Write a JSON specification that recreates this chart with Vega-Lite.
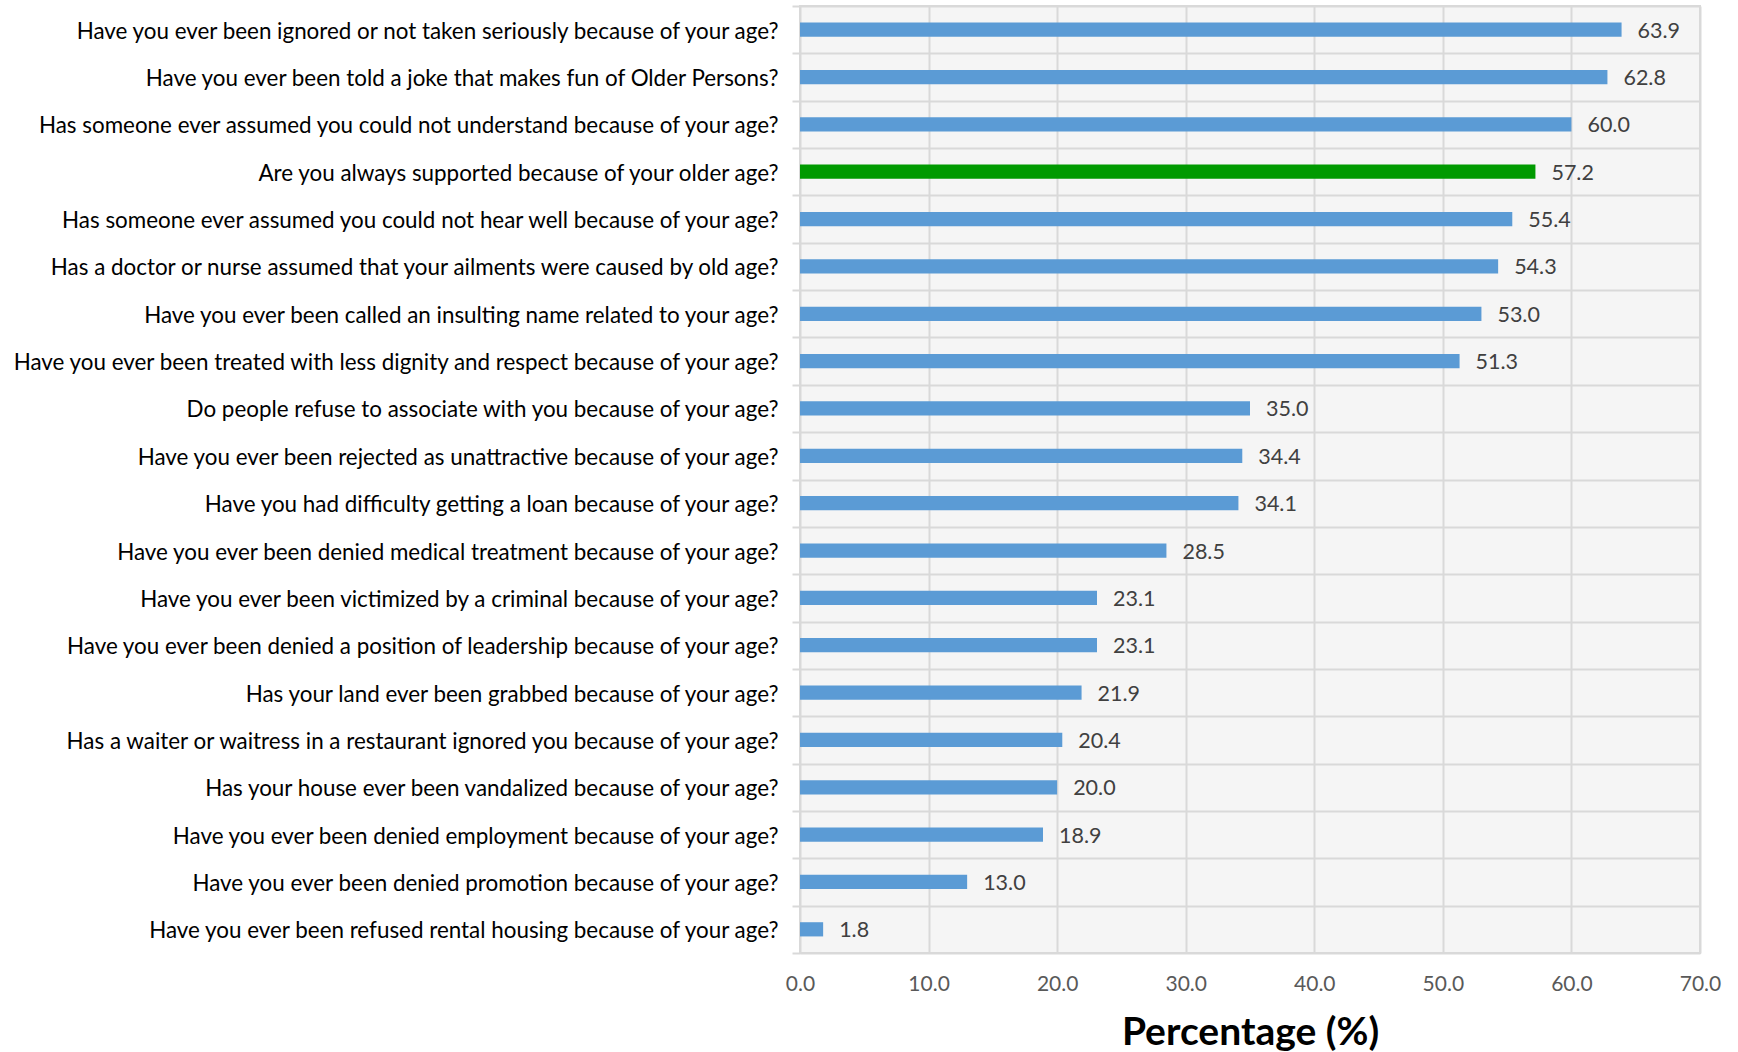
{
  "$schema": "https://vega.github.io/schema/vega-lite/v6.json",
  "width": 900,
  "height": 947,
  "autosize": {"type": "none"},
  "padding": {"left": 800, "top": 6, "right": 38, "bottom": 99},
  "background": "white",
  "config": {
    "font": "Lato",
    "view": {"fill": "#f5f5f5", "stroke": "#d9d9d9", "strokeWidth": 2}
  },
  "data": {
    "values": [
      {"question": "Have you ever been ignored or not taken seriously because of your age?", "pct": 63.9, "group": "ageism"},
      {"question": "Have you ever been told a joke that makes fun of Older Persons?", "pct": 62.8, "group": "ageism"},
      {"question": "Has someone ever assumed you could not understand because of your age?", "pct": 60.0, "group": "ageism"},
      {"question": "Are you always supported because of your older age?", "pct": 57.2, "group": "support"},
      {"question": "Has someone ever assumed you could not hear well because of your age?", "pct": 55.4, "group": "ageism"},
      {"question": "Has a doctor or nurse assumed that your ailments were caused by old age?\u00a0", "pct": 54.3, "group": "ageism"},
      {"question": "Have you ever been called an insulting name related to your age?", "pct": 53.0, "group": "ageism"},
      {"question": "Have you ever been treated with less dignity and respect because of your age?", "pct": 51.3, "group": "ageism"},
      {"question": "Do people refuse to associate with you because of your age?", "pct": 35.0, "group": "ageism"},
      {"question": "Have you ever been rejected as unattractive because of your age?", "pct": 34.4, "group": "ageism"},
      {"question": "Have you had difficulty getting a loan because of your age?", "pct": 34.1, "group": "ageism"},
      {"question": "Have you ever been denied medical treatment because of your age?", "pct": 28.5, "group": "ageism"},
      {"question": "Have you ever been victimized by a criminal because of your age?", "pct": 23.1, "group": "ageism"},
      {"question": "Have you ever been denied a position of leadership because of your age?", "pct": 23.1, "group": "ageism"},
      {"question": "Has your land ever been grabbed because of your age?\u00a0", "pct": 21.9, "group": "ageism"},
      {"question": "Has a waiter or waitress in a restaurant ignored you because of your age?\u00a0", "pct": 20.4, "group": "ageism"},
      {"question": "Has your house ever been vandalized because of your age?", "pct": 20.0, "group": "ageism"},
      {"question": "Have you ever been denied employment because of your age?", "pct": 18.9, "group": "ageism"},
      {"question": "Have you ever been denied promotion because of your age?", "pct": 13.0, "group": "ageism"},
      {"question": "Have you ever been refused rental housing because of your age?", "pct": 1.8, "group": "ageism"}
    ]
  },
  "encoding": {
    "y": {
      "field": "question",
      "type": "nominal",
      "sort": null,
      "scale": {"paddingInner": 0, "paddingOuter": 0},
      "axis": {
        "title": null,
        "domain": false,
        "grid": true,
        "gridColor": "#d9d9d9",
        "gridWidth": 2,
        "tickBand": "extent",
        "ticks": true,
        "tickColor": "#d9d9d9",
        "tickWidth": 2,
        "tickSize": 8,
        "labelPadding": 14,
        "labelOffset": 1.5,
        "labelLimit": 800,
        "labelFontSize": 22.4,
        "labelColor": "#000000",
        "labelFont": "Lato"
      }
    },
    "x": {
      "field": "pct",
      "type": "quantitative",
      "scale": {"domain": [0, 70], "nice": false},
      "axis": {
        "values": [0, 10, 20, 30, 40, 50, 60, 70],
        "format": ".1f",
        "title": "Percentage (%)",
        "titleFontSize": 39,
        "titleFontWeight": "bold",
        "titleColor": "#000000",
        "titleFont": "Lato",
        "titlePadding": 19,
        "domain": false,
        "ticks": false,
        "grid": true,
        "gridColor": "#d9d9d9",
        "gridWidth": 2,
        "labelFlush": false,
        "labelPadding": 20,
        "labelFontSize": 21,
        "labelColor": "#595959",
        "labelFont": "Lato"
      }
    }
  },
  "layer": [
    {
      "mark": {"type": "bar", "height": {"band": 0.3}},
      "encoding": {
        "color": {
          "field": "group",
          "type": "nominal",
          "scale": {"domain": ["ageism", "support"], "range": ["#5b9bd5", "#009a00"]},
          "legend": null
        }
      }
    },
    {
      "mark": {"type": "text", "align": "left", "baseline": "middle", "dx": 16, "dy": 2, "fontSize": 21.5, "color": "#404040", "font": "Lato"},
      "encoding": {
        "text": {"field": "pct", "type": "quantitative", "format": ".1f"}
      }
    }
  ]
}
